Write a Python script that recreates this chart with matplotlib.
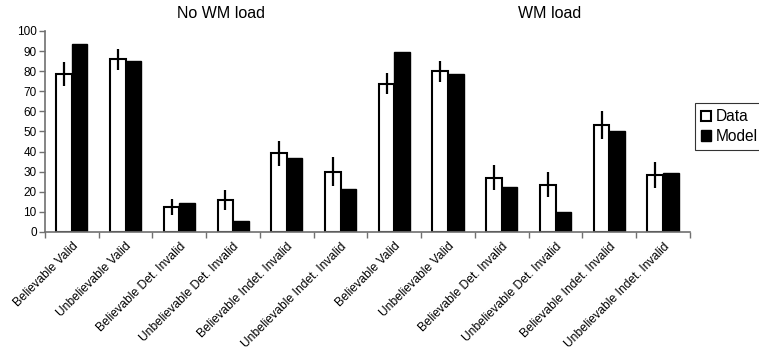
import matplotlib
matplotlib.use("Agg")
import matplotlib.pyplot as plt
from matplotlib.patches import Patch
import numpy as np

plt.rcParams['font.family'] = ['Liberation Sans', 'DejaVu Sans']

categories = ["Believable Valid", "Unbelievable Valid", "Believable Det. Invalid",
              "Unbelievable Det. Invalid", "Believable Indet. Invalid", "Unbelievable Indet. Invalid",
              "Believable Valid", "Unbelievable Valid", "Believable Det. Invalid",
              "Unbelievable Det. Invalid", "Believable Indet. Invalid", "Unbelievable Indet. Invalid"]
data_vals = [78.4, 86.0, 12.4, 15.8, 39.1, 29.9, 73.8, 79.9, 26.9, 23.5, 53.4, 28.2]
data_err = [6.0, 5.2, 4.1, 5.1, 6.2, 7.2, 5.4, 5.2, 6.2, 6.2, 7.0, 6.5]
model_vals = [93.5, 84.9, 14.3, 5.6, 37.0, 21.6, 89.4, 78.8, 22.2, 10.0, 50.2, 29.2]
panel_titles = ["No WM load", "WM load"]

fig = plt.figure(figsize=(7.59, 3.52), dpi=100)
ax = fig.add_axes([0.0593, 0.341, 0.8497, 0.571])

x = np.arange(len(categories))
w = 0.29
ax.bar(x - 0.145, data_vals, width=w, color='white', edgecolor='black', linewidth=1.5, zorder=2)
ax.bar(x + 0.145, model_vals, width=w, color='black', edgecolor='black', linewidth=1.0, zorder=2)
ax.errorbar(x - 0.145, data_vals, yerr=data_err, fmt='none', ecolor='black', elinewidth=1.6, capsize=0, zorder=3)

ax.set_xlim(-0.5, len(categories) - 0.5)
ax.set_ylim(0, 100)
ax.set_yticks(np.arange(0, 101, 10))
ax.tick_params(axis='y', labelsize=8.5, length=4, width=1, color='#707070', pad=2)

ax.set_xticks(np.arange(-0.5, len(categories), 1.0))
ax.set_xticklabels([])
ax.tick_params(axis='x', which='major', length=4, width=1, color='#707070')
ax.set_xticks(x, minor=True)
ax.set_xticklabels(categories, minor=True, rotation=45, ha='right', rotation_mode='anchor', fontsize=8.7)
ax.tick_params(axis='x', which='minor', length=0, pad=6)

for s in ['top', 'right']:
    ax.spines[s].set_visible(False)
for s in ['left', 'bottom']:
    ax.spines[s].set_color('#707070')
    ax.spines[s].set_linewidth(1.2)

fig.text(221 / 759, 1 - 14 / 352, panel_titles[0], ha='center', va='center', fontsize=11.5)
fig.text(550 / 759, 1 - 14 / 352, panel_titles[1], ha='center', va='center', fontsize=11.5)

handles = [Patch(facecolor='white', edgecolor='black', linewidth=1.5, label='Data'),
           Patch(facecolor='black', edgecolor='black', label='Model')]
leg = fig.legend(handles=handles, loc='upper left', bbox_to_anchor=(695 / 759, 1 - 103 / 352),
                 fontsize=11.2, frameon=True, fancybox=False, edgecolor='black',
                 handlelength=0.65, handleheight=0.65, handletextpad=0.3, borderpad=0.4,
                 labelspacing=0.3, borderaxespad=0)
leg.get_frame().set_linewidth(0.8)

fig.savefig("out.png", dpi=100)
